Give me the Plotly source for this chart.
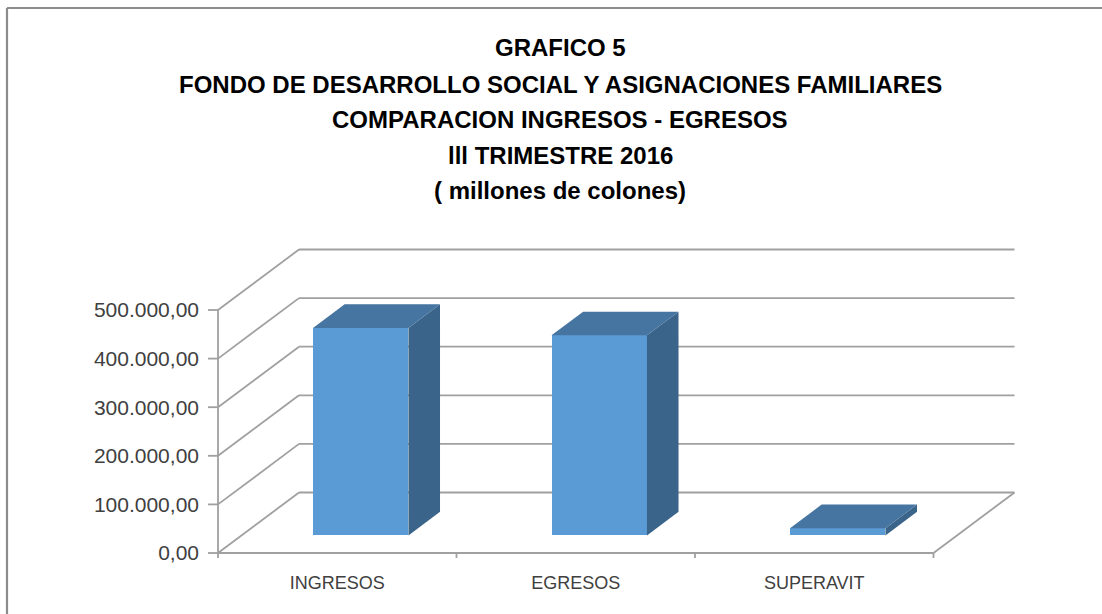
import plotly.graph_objects as go

# ---------------- data ----------------
categories = ["INGRESOS", "EGRESOS", "SUPERAVIT"]
values = [427000, 412000, 15000]
y_tickvals = [0, 100000, 200000, 300000, 400000, 500000]
y_ticktext = ["0,00", "100.000,00", "200.000,00", "300.000,00", "400.000,00", "500.000,00"]
title_lines = ["GRAFICO 5",
               "FONDO DE DESARROLLO SOCIAL Y ASIGNACIONES FAMILIARES",
               "COMPARACION INGRESOS - EGRESOS",
               "lll TRIMESTRE 2016",
               "( millones de colones)"]

# ---------------- layout geometry (pixels) ----------------
W, H = 1102, 614
X0_PX, PX_CAT = 218, 238.5          # pixel of category-axis origin, px per category
Y0_PX, PX_VAL = 553, 48.6 / 100000  # pixel of value zero, px per value unit
PL, PR, PT, PB = 200, 1030, 230, 562  # plot area
xr = [(PL - X0_PX) / PX_CAT, (PR - X0_PX) / PX_CAT]
yr = [(Y0_PX - PB) / PX_VAL, (Y0_PX - PT) / PX_VAL]
DX = 81 / PX_CAT                    # depth offset in category units
DY = 60.5 / PX_VAL                  # depth offset in value units
F_FRONT, F_DEPTH = 0.29, 0.39       # bar front position / bar depth (fraction of depth)
BAR_W = 0.40

GRID = "#A0A0A0"
FRONT, TOP, SIDE = "#5B9BD5", "#4675A1", "#3A6489"
FONT = "Liberation Sans, Arial"

def ppx(x):  # pixel -> paper x
    return (x - PL) / (PR - PL)

def ppy(y):  # pixel -> paper y
    return (PB - y) / (PB - PT)

shapes = []
def seg(x0, y0, x1, y1, w=1.8):
    shapes.append(dict(type="line", xref="x", yref="y", x0=x0, y0=y0, x1=x1, y1=y1,
                       line=dict(color=GRID, width=w), layer="below"))

ncat = len(categories)
vmax = y_tickvals[-1]
# back wall horizontal lines + side wall diagonals
for v in y_tickvals:
    seg(DX, v + DY, ncat + DX, v + DY)
    seg(0, v, DX, v + DY)
# floor
seg(0, 0, ncat, 0)
seg(ncat, 0, ncat + DX, DY)
# front value axis line and ticks
seg(0, 0, 0, vmax)
for v in y_tickvals:
    seg(-10 / PX_CAT, v, 0, v)
# category ticks
for i in range(ncat + 1):
    seg(i, 0, i, -5 / PX_VAL)

# chart border (left and top edges visible)
BORDER = dict(color="#8C8C8C", width=2.2)
shapes.append(dict(type="line", xref="paper", yref="paper",
                   x0=ppx(7), y0=ppy(8), x1=ppx(W + 10), y1=ppy(8), line=BORDER, layer="below"))
shapes.append(dict(type="line", xref="paper", yref="paper",
                   x0=ppx(7), y0=ppy(8), x1=ppx(7), y1=ppy(H + 10), line=BORDER, layer="below"))

fig = go.Figure()

centers = [i + 0.5 for i in range(ncat)]
fx = [c + F_FRONT * DX for c in centers]
base = F_FRONT * DY

# front faces
fig.add_trace(go.Bar(x=fx, y=values, base=[base] * ncat, width=BAR_W,
                     marker=dict(color=FRONT, line=dict(width=0)), hoverinfo="skip",
                     showlegend=False))

# side and top faces
for c, v in zip(fx, values):
    x0, x1 = c - BAR_W / 2, c + BAR_W / 2
    top = base + v
    ddx, ddy = F_DEPTH * DX, F_DEPTH * DY
    fig.add_trace(go.Scatter(x=[x1, x1, x1 + ddx, x1 + ddx, x1],
                             y=[base, top, top + ddy, base + ddy, base],
                             fill="toself", fillcolor=SIDE, mode="lines",
                             line=dict(width=0, color=SIDE), hoverinfo="skip", showlegend=False))
    fig.add_trace(go.Scatter(x=[x0, x1, x1 + ddx, x0 + ddx, x0],
                             y=[top, top, top + ddy, top + ddy, top],
                             fill="toself", fillcolor=TOP, mode="lines",
                             line=dict(width=0, color=TOP), hoverinfo="skip", showlegend=False))

annotations = []
title_y = [47, 84, 119, 155, 190]
for t, y in zip(title_lines, title_y):
    annotations.append(dict(text="<b>" + t + "</b>", x=ppx(560), y=ppy(y), xref="paper", yref="paper",
                            showarrow=False, xanchor="center", yanchor="middle",
                            font=dict(family=FONT, size=24, color="#000000")))

fig.update_layout(
    width=W, height=H,
    margin=dict(l=PL, r=W - PR, t=PT, b=H - PB, pad=0, autoexpand=False),
    paper_bgcolor="white", plot_bgcolor="rgba(0,0,0,0)",
    shapes=shapes, annotations=annotations, bargap=0,
    xaxis=dict(range=xr, tickvals=centers, ticktext=categories, showgrid=False, zeroline=False,
               showline=False, ticks="", ticklabelstandoff=8, automargin=False,
               tickfont=dict(family=FONT, size=18, color="#404040")),
    yaxis=dict(range=yr, tickvals=y_tickvals, ticktext=y_ticktext, showgrid=False, zeroline=False,
               showline=False, ticks="", ticklabelstandoff=0, automargin=False,
               tickfont=dict(family=FONT, size=21, color="#404040")),
)

fig.write_html("out.html", config={"displayModeBar": False},
               post_script="document.body.style.margin='0';document.body.style.overflow='hidden';")
